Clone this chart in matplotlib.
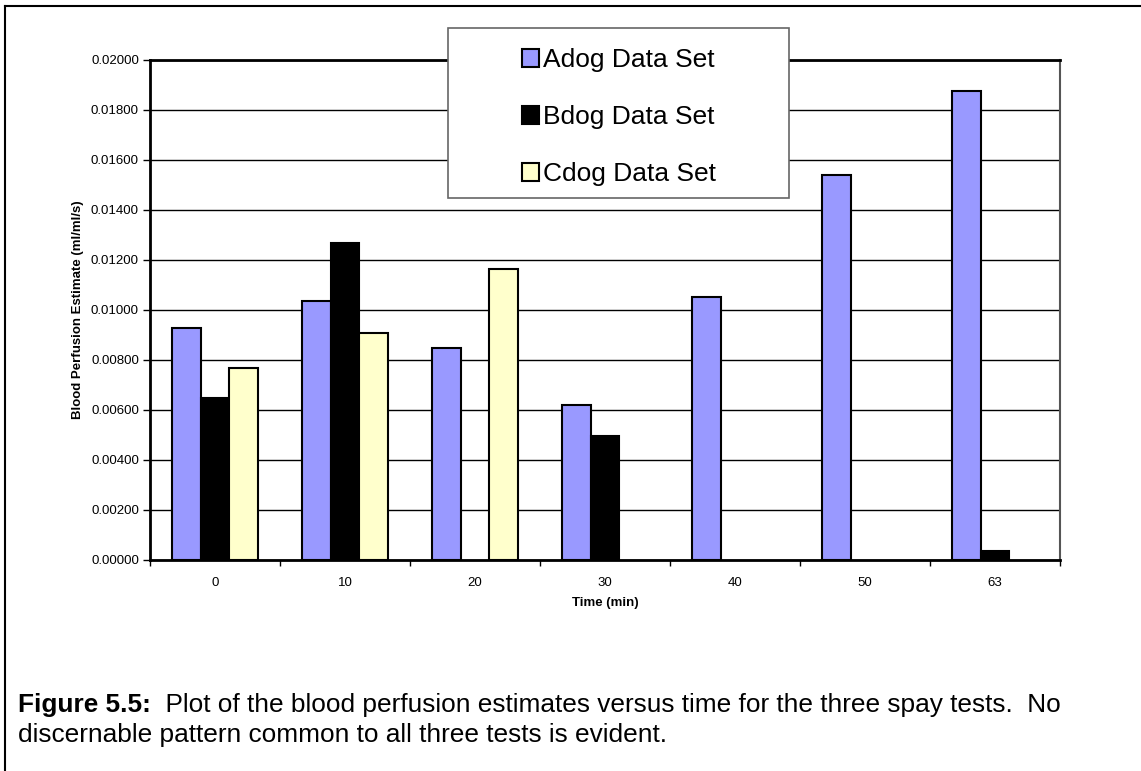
import numpy as np
import matplotlib
matplotlib.use("Agg")
from matplotlib import pyplot as plt
from matplotlib.patches import Rectangle

plt.rcParams['font.family'] = ['Liberation Sans', 'DejaVu Sans']

times = ["0", "10", "20", "30", "40", "50", "63"]
adog = [0.00927, 0.01037, 0.00849, 0.00620, 0.01053, 0.01540, 0.01877]
bdog = [0.00647, 0.01269, np.nan, 0.00496, np.nan, np.nan, 0.00036]
cdog = [0.00767, 0.00907, 0.01165, np.nan, np.nan, np.nan, np.nan]
series_names = ["Adog Data Set", "Bdog Data Set", "Cdog Data Set"]
colors = ["#9999FF", "#000000", "#FFFFCC"]

W, H = 1141, 771
fig = plt.figure(figsize=(W / 100, H / 100), dpi=100)

def fx(px):
    return px / W

def fy(py):
    return 1 - py / H

# page frame
fig.add_artist(plt.Line2D([fx(5), fx(5)], [fy(6), 0], color="black", lw=1.5))
fig.add_artist(plt.Line2D([fx(5), 1], [fy(6), fy(6)], color="black", lw=1.5))

ax = fig.add_axes([fx(150), fy(560), fx(1060) - fx(150), fy(60) - fy(560)])

x = np.arange(len(times))
w = 0.222
for i, (vals, col) in enumerate(zip([adog, bdog, cdog], colors)):
    ax.bar(x + (i - 1) * w, vals, width=w, color=col, edgecolor="black",
           linewidth=1.5, label=series_names[i], zorder=3)

ax.set_xlim(-0.5, len(times) - 0.5)
ax.set_ylim(0, 0.02)
ax.set_yticks(np.arange(0, 0.0201, 0.002))
ax.set_yticklabels([f"{v:.5f}" for v in np.arange(0, 0.0201, 0.002)], fontsize=9.5)
ax.yaxis.grid(True, color="black", lw=1)
ax.set_axisbelow(True)
ax.tick_params(axis="y", length=5, width=1, pad=3)

ax.set_xticks(x)
ax.set_xticklabels(times, fontsize=9.5)
ax.tick_params(axis="x", which="major", length=0, pad=12)
ax.set_xticks(np.arange(-0.5, len(times)), minor=True)
ax.tick_params(axis="x", which="minor", length=4, width=1)

for s in ["left", "bottom", "top"]:
    ax.spines[s].set_linewidth(2)
    ax.spines[s].set_color("black")
ax.spines["right"].set_linewidth(1.5)
ax.spines["right"].set_color("#555555")

ax.set_xlabel("Time (min)", fontsize=9.5, fontweight="bold", labelpad=6)
ax.set_ylabel("Blood Perfusion Estimate (ml/ml/s)", fontsize=9.5, fontweight="bold", labelpad=5)

# legend box
fig.add_artist(Rectangle((fx(448), fy(198)), fx(789) - fx(448), fy(28) - fy(198),
                         facecolor="white", edgecolor="#666666", lw=1.2, zorder=4))
handles, labels = ax.get_legend_handles_labels()
leg = fig.legend(handles, labels, loc="center", bbox_to_anchor=(fx(619), fy(117)),
                 frameon=False, fontsize=19, handlelength=0.65, handleheight=0.65,
                 handletextpad=0.15, labelspacing=1.25)
leg.set_zorder(5)

# caption
r = fig.canvas.get_renderer()
t1 = fig.text(fx(18), fy(705), "Figure 5.5:", fontsize=18.9, fontweight="bold", va="center")
bb = t1.get_window_extent(renderer=r)
fig.text(bb.x1 / W, fy(705),
         "  Plot of the blood perfusion estimates versus time for the three spay tests.  No",
         fontsize=18.9, va="center")
fig.text(fx(18), fy(735), "discernable pattern common to all three tests is evident.",
         fontsize=18.9, va="center")

fig.savefig("out.png", dpi=100)
